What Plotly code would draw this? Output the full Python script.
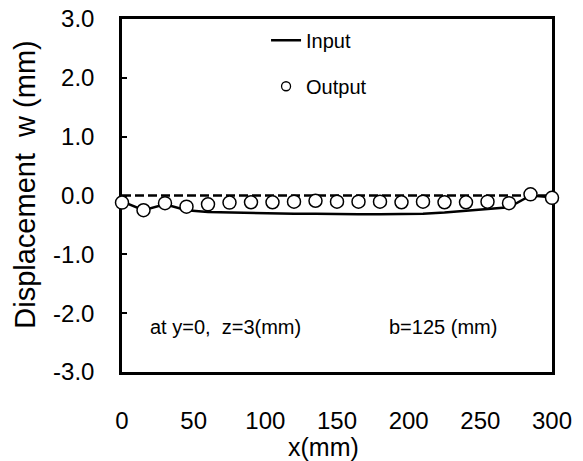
import plotly.graph_objects as go

# Data
x_mm = [0, 15, 30, 45, 60, 75, 90, 105, 120, 135, 150, 165, 180, 195, 210, 225, 240, 255, 270, 285, 300]
input_w = [-0.10, -0.25, -0.15, -0.25, -0.28, -0.29, -0.30, -0.31, -0.31, -0.31, -0.32, -0.32,
           -0.32, -0.32, -0.31, -0.29, -0.26, -0.22, -0.20, 0.00, -0.03]
output_w = [-0.12, -0.25, -0.13, -0.19, -0.15, -0.12, -0.115, -0.115, -0.105, -0.09, -0.105, -0.105,
            -0.105, -0.115, -0.105, -0.115, -0.115, -0.105, -0.13, 0.02, -0.04]
x_ticks = [0, 50, 100, 150, 200, 250, 300]
y_ticks = [-3, -2, -1, 0, 1, 2, 3]
y_tick_labels = ["-3.0", "-2.0", "-1.0", "0.0", "1.0", "2.0", "3.0"]

FONT = "Liberation Sans, Arial, sans-serif"

fig = go.Figure()
fig.add_hline(y=0, line=dict(color="black", width=2.5, dash="9px,4px"), layer="below")
fig.add_trace(go.Scatter(
    x=x_mm, y=input_w, mode="lines", name="Input",
    line=dict(color="black", width=2.5), cliponaxis=False,
    legendgroup="a"))
fig.add_trace(go.Scatter(
    x=x_mm, y=output_w, mode="markers", name="Output",
    marker=dict(symbol="circle", size=13, color="white", line=dict(color="black", width=1.5)),
    cliponaxis=False, legendgroup="b", showlegend=False))
# legend entry for Output (smaller symbol as in the reference legend)
fig.add_trace(go.Scatter(
    x=[None], y=[None], mode="markers", name="Output",
    marker=dict(symbol="circle", size=9, color="white", line=dict(color="black", width=1.3)),
    legendgroup="b"))

fig.update_layout(
    width=583, height=461,
    margin=dict(l=121.5, r=30.5, t=18.5, b=88.5),
    plot_bgcolor="white", paper_bgcolor="white",
    font=dict(family=FONT, color="black", size=24),
    showlegend=True,
    legend=dict(x=0.335, y=0.995, xanchor="left", yanchor="top",
                bgcolor="rgba(0,0,0,0)", font=dict(size=20),
                traceorder="grouped", tracegroupgap=17, itemsizing="trace"),
    xaxis=dict(range=[0, 300], tickvals=x_ticks, showgrid=False, zeroline=False,
               showline=True, linecolor="black", linewidth=2.5, mirror=True,
               ticks="", ticklabelstandoff=25, layer="below traces", automargin=False,
               tickfont=dict(size=24)),
    yaxis=dict(range=[-3, 3], tickvals=y_ticks, ticktext=y_tick_labels, showgrid=False,
               zeroline=False, showline=True, linecolor="black", linewidth=2.5, mirror=True,
               ticks="inside", ticklen=5, tickwidth=1.5, tickcolor="black",
               ticklabelstandoff=20, layer="below traces", automargin=False,
               tickfont=dict(size=24)),
)

# axis titles
fig.add_annotation(x=0.4675, y=-0.212, xref="paper", yref="paper", xanchor="center", yanchor="middle",
                   text="x(mm)", showarrow=False, font=dict(size=25))
fig.add_annotation(x=-0.226, y=0.53, xref="paper", yref="paper", xanchor="center", yanchor="middle",
                   text="Displacement  w (mm)", textangle=-90, showarrow=False, font=dict(size=29))

fig.add_annotation(x=0.0615, y=0.1285, xref="paper", yref="paper", xanchor="left", yanchor="middle",
                   text="at y=0,  z=3(mm)", showarrow=False, font=dict(size=20))
fig.add_annotation(x=0.616, y=0.1285, xref="paper", yref="paper", xanchor="left", yanchor="middle",
                   text="b=125 (mm)", showarrow=False, font=dict(size=20))

fig.write_html("out.html", config={"displayModeBar": False},
               post_script="document.body.style.margin='0px';")
